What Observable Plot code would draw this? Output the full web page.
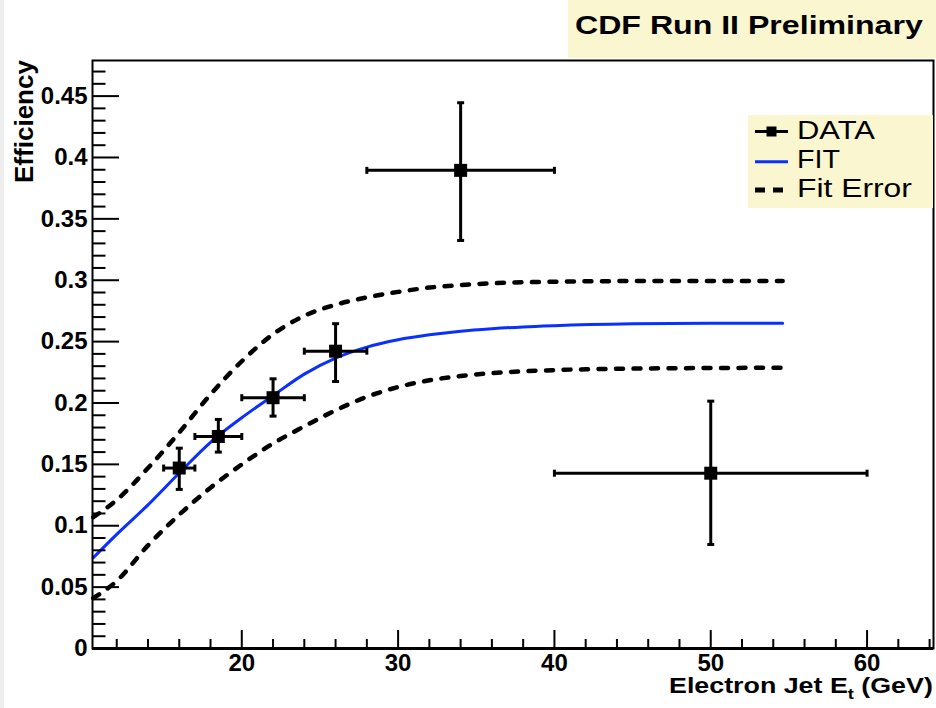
<!DOCTYPE html>
<html><head><meta charset="utf-8">
<script src="https://cdn.jsdelivr.net/npm/d3@7"></script>
<script src="https://cdn.jsdelivr.net/npm/@observablehq/plot@0.6"></script>
<style>
html,body{margin:0;padding:0;background:#fff;}
#chart{position:relative;width:936px;height:708px;overflow:hidden;}
</style></head><body><div id="chart"></div>
<script>
// ---- data ----
const pointX    = [16, 18.5, 22, 26, 34, 50];
const pointY    = [0.147, 0.1727, 0.2043, 0.2422, 0.3895, 0.1428];
const xErrLow   = [15, 17, 20, 24, 28, 40];
const xErrHigh  = [17, 20, 24, 28, 40, 60];
const yErrLow   = [0.1296, 0.160, 0.1893, 0.2175, 0.3324, 0.0847];
const yErrHigh  = [0.1632, 0.1866, 0.2197, 0.2646, 0.4446, 0.2015];

const curveX    = [10.5, 12, 14, 16, 18, 20, 22, 24, 26, 28, 30, 32, 34, 36, 38, 40, 45, 50, 54.6];
const fitY      = [0.074, 0.093, 0.117, 0.143, 0.168, 0.188, 0.206, 0.2235, 0.2365, 0.2455, 0.2515, 0.2555, 0.2585, 0.2605, 0.262, 0.263, 0.2645, 0.265, 0.265];
const fitUpper  = [0.107, 0.121, 0.147, 0.176, 0.207, 0.234, 0.256, 0.271, 0.280, 0.286, 0.2905, 0.294, 0.296, 0.2975, 0.2983, 0.2988, 0.2993, 0.2993, 0.2993];
const fitLower  = [0.041, 0.055, 0.084, 0.109, 0.131, 0.150, 0.167, 0.181, 0.194, 0.205, 0.213, 0.2185, 0.222, 0.2243, 0.2258, 0.2268, 0.228, 0.2285, 0.2287];

const xMajorTicks = [20, 30, 40, 50, 60];
const xTickLabels = ["20", "30", "40", "50", "60"];
const yMajorTicks = [0, 0.05, 0.1, 0.15, 0.2, 0.25, 0.3, 0.35, 0.4, 0.45];
const yTickLabels = ["0", "0.05", "0.1", "0.15", "0.2", "0.25", "0.3", "0.35", "0.4", "0.45"];
const legendLabels = ["DATA", "FIT", "Fit Error"];
const titleText = "CDF Run II Preliminary";
const yTitle = "Efficiency";

// ---- layout ----
const W = 936, H = 708, mL = 92, mR = 3, mT = 60, mB = 60;
const innerW = W - mL - mR, innerH = H - mT - mB;
const xDomain = [10.45, 64.25], yDomain = [0, 0.479];
const xMinorTicks = d3.range(12, 65, 2).filter(v => v % 10 !== 0);
const yMinorTicks = d3.range(1, 48).filter(k => k % 5 !== 0).map(k => k / 100);

const points = pointX.map((x, i) => ({x, y: pointY[i], xlo: xErrLow[i], xhi: xErrHigh[i], ylo: yErrLow[i], yhi: yErrHigh[i]}));
const fit = curveX.map((x, i) => ({x, y: fitY[i], up: fitUpper[i], lo: fitLower[i]}));

const rectSym = (w, h) => ({draw(ctx) { ctx.rect(-w / 2, -h / 2, w, h); }});
const BLUE = "#0a30ff";
const YELLOW = "#faf7d0";
const FONT = "'Liberation Sans', Arial, Helvetica, sans-serif";

const plot = Plot.plot({
  width: W, height: H, marginLeft: mL, marginRight: mR, marginTop: mT, marginBottom: mB,
  x: {domain: xDomain, axis: null},
  y: {domain: yDomain, axis: null},
  style: {background: "transparent", fontFamily: FONT, color: "black"},
  marks: [
    Plot.line(fit, {x: "x", y: "up", stroke: "black", strokeWidth: 4.5, strokeDasharray: "7,10.5", curve: "monotone-x"}),
    Plot.line(fit, {x: "x", y: "lo", stroke: "black", strokeWidth: 4.5, strokeDasharray: "7,10.5", curve: "monotone-x"}),
    Plot.line(fit, {x: "x", y: "y", stroke: BLUE, strokeWidth: 3, curve: "monotone-x"}),
    Plot.ruleY(points, {y: "y", x1: "xlo", x2: "xhi", stroke: "black", strokeWidth: 3}),
    Plot.ruleX(points, {x: "x", y1: "ylo", y2: "yhi", stroke: "black", strokeWidth: 3}),
    Plot.dot(points, {x: "xlo", y: "y", symbol: rectSym(3, 7), fill: "black"}),
    Plot.dot(points, {x: "xhi", y: "y", symbol: rectSym(3, 7), fill: "black"}),
    Plot.dot(points, {x: "x", y: "ylo", symbol: rectSym(7, 3), fill: "black"}),
    Plot.dot(points, {x: "x", y: "yhi", symbol: rectSym(7, 3), fill: "black"}),
    Plot.dot(points, {x: "x", y: "y", symbol: rectSym(13, 13), fill: "black"}),
    Plot.tickX(xMajorTicks, {x: d => d, insetTop: innerH - 18, stroke: "black", strokeWidth: 2}),
    Plot.tickX(xMinorTicks, {x: d => d, insetTop: innerH - 9, stroke: "black", strokeWidth: 2}),
    Plot.tickY(yMajorTicks, {y: d => d, insetRight: innerW - 27, stroke: "black", strokeWidth: 2}),
    Plot.tickY(yMinorTicks, {y: d => d, insetRight: innerW - 13.5, stroke: "black", strokeWidth: 2}),
    Plot.frame({stroke: "black", strokeWidth: 2}),
    Plot.ruleY([yDomain[0]], {stroke: "black", strokeWidth: 3}),
    Plot.axisX(xMajorTicks, {tickSize: 0, tickPadding: 5, fontSize: 24, fontWeight: "bold",
      tickFormat: d => xTickLabels[xMajorTicks.indexOf(d)]}),
    Plot.axisY(yMajorTicks, {tickSize: 0, tickPadding: 5, fontSize: 24, fontWeight: "bold",
      tickFormat: d => yTickLabels[yMajorTicks.indexOf(d)]})
  ]
});
document.getElementById("chart").appendChild(plot);

// ---- decorations: title box, legend, axis titles ----
const svg = d3.select(plot);
svg.insert("rect", ":first-child").attr("x", 0).attr("y", 0).attr("width", 4).attr("height", H).attr("fill", "#eeeeee");

function fitText(parent, build, width, transform) {
  const g = parent.append("g");
  const t = g.append("text").attr("x", 0).attr("y", 0).attr("fill", "black")
    .attr("text-anchor", "start").style("font-family", FONT);
  build(t);
  const w = t.node().getComputedTextLength();
  g.attr("transform", `${transform} scale(${width / w},1)`);
  return g;
}

// title box
svg.append("rect").attr("x", 568).attr("y", 0).attr("width", 368).attr("height", 58).attr("fill", YELLOW);
fitText(svg, t => t.text(titleText).style("font-size", "26px").style("font-weight", "bold"), 348, "translate(575,33.5)");

// legend
svg.append("rect").attr("x", 748).attr("y", 115).attr("width", 185).attr("height", 93).attr("fill", YELLOW);
svg.append("line").attr("x1", 755).attr("x2", 788).attr("y1", 131.5).attr("y2", 131.5).attr("stroke", "black").attr("stroke-width", 3);
svg.append("rect").attr("x", 766.5).attr("y", 126.5).attr("width", 10).attr("height", 10).attr("fill", "black");
svg.append("line").attr("x1", 755).attr("x2", 788).attr("y1", 161.7).attr("y2", 161.7).attr("stroke", BLUE).attr("stroke-width", 3);
svg.append("line").attr("x1", 755).attr("x2", 783).attr("y1", 190).attr("y2", 190).attr("stroke", "black").attr("stroke-width", 5).attr("stroke-dasharray", "10,8");
const legW = [78, 43, 115], legBase = [139, 168, 197];
legendLabels.forEach((lab, i) => {
  fitText(svg, t => t.text(lab).style("font-size", "25px"), legW[i], `translate(797,${legBase[i]})`);
});

// axis titles
fitText(svg, t => {
  t.style("font-size", "22px").style("font-weight", "bold");
  t.append("tspan").text("Electron Jet E");
  t.append("tspan").text("t").style("font-size", "15px").attr("dy", 6);
  t.append("tspan").text(" (GeV)").attr("dy", -6);
}, 264, "translate(669,693)");
fitText(svg, t => t.text(yTitle).style("font-size", "25px").style("font-weight", "bold"), 123, "translate(33,183) rotate(-90)");
</script>
</body></html>
